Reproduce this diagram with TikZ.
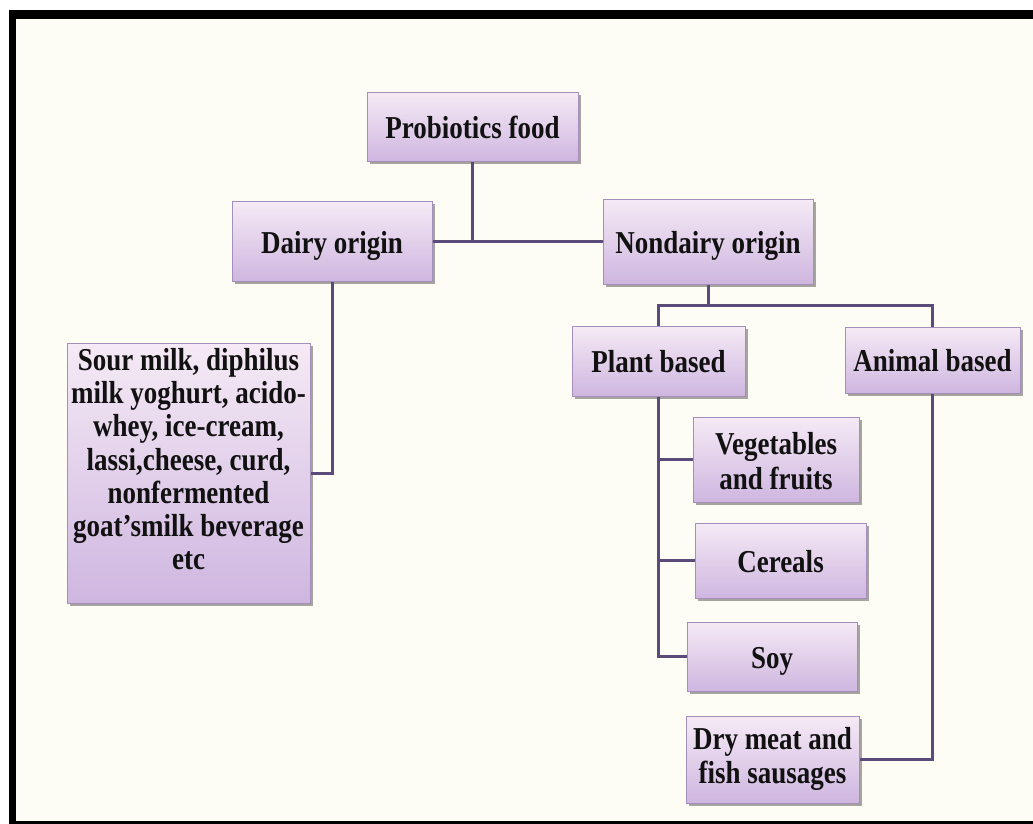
\documentclass[tikz,border=0pt]{standalone}
\usepackage{fontspec}
\setmainfont{Liberation Serif}
\usetikzlibrary{shadows}
\definecolor{bgcream}{HTML}{FEFDF5}
\definecolor{boxtop}{HTML}{F5EAF5}
\definecolor{boxbot}{HTML}{CFB6E0}
\definecolor{boxedge}{HTML}{A38FB9}
\definecolor{linkcol}{HTML}{5B4B7A}
\definecolor{inkcol}{HTML}{111111}
\tikzset{
  fbox/.style={draw=boxedge, line width=1pt, shading=axis, top color=boxtop, bottom color=boxbot,
    drop shadow={shadow xshift=2.5pt, shadow yshift=-2.5pt, fill=black, opacity=0.35},
    inner sep=0pt, align=center, text=inkcol, font=\fontsize{27}{29.5}\selectfont\bfseries},
  link/.style={draw=linkcol, line width=3pt},
}
\newcommand{\vs}[1]{\scalebox{1}[1.18]{\begin{tabular}{@{}c@{}}#1\end{tabular}}}
\newcommand{\dn}{\rule{0pt}{34pt}}
\begin{document}
\begin{tikzpicture}[x=1pt,y=-1pt]
\useasboundingbox (0,0) rectangle (1033,824);
\fill[white] (0,0) rectangle (1033,824);
\fill[bgcream] (9,10) rectangle (1033,824);
\fill[black] (9,10) rectangle (1033,19);
\fill[black] (9,10) rectangle (16,824);
\fill[black] (9,821) rectangle (1033,824);

\node[fbox, minimum width=211pt, minimum height=68pt] (prob) at (472.5,127) {\vs{Probiotics food}\dn};
\node[fbox, minimum width=200pt, minimum height=80pt] (dairy) at (332,241.5) {\vs{Dairy origin}\dn};
\node[fbox, minimum width=210pt, minimum height=85pt] (nond) at (708,241.5) {\vs{Nondairy origin}\dn};
\node[fbox, minimum width=173pt, minimum height=70pt] (plant) at (658.5,361) {\vs{Plant based}\dn};
\node[fbox, minimum width=175pt, minimum height=66pt] (animal) at (932.5,360) {\vs{Animal based}\dn};
\node[fbox, minimum width=166pt, minimum height=85pt] (veg) at (776,459.5) {\vs{Vegetables\\and fruits}\rule{0pt}{53pt}};
\node[fbox, minimum width=171pt, minimum height=75pt] (cer) at (780.5,560.5) {\vs{Cereals}\dn};
\node[fbox, minimum width=170pt, minimum height=69pt] (soy) at (772,656.5) {\vs{Soy}\dn};
\node[fbox, minimum width=173pt, minimum height=87pt] (dry) at (772.5,759.5) {\vs{Dry meat and\\fish sausages}};
\node[fbox, minimum width=243pt, minimum height=260pt, font=\fontsize{27}{28.2}\selectfont\bfseries] (sour) at (188.5,473) {\vs{Sour milk, diphilus\\milk yoghurt, acido-\\whey, ice-cream,\\lassi,cheese, curd,\\nonfermented\\goat’smilk beverage\\etc\\[-12pt] \mbox{}}};

\coordinate (hub) at (prob.south |- dairy.east);
\draw[link] (prob.south) -- (hub);
\draw[link] (dairy.east) -- (nond.west);
\coordinate (bus) at (708,305);
\draw[link] (nond.south) -- (bus);
\draw[link] (plant.north) -- (plant.north |- bus) -- (animal.north |- bus) -- (animal.north);
\draw[link] (plant.south) |- (soy.west);
\draw[link] (plant.south |- veg.west) -- (veg.west);
\draw[link] (plant.south |- cer.west) -- (cer.west);
\draw[link] (animal.south) |- (dry.east);
\draw[link] (dairy.south) |- (sour.east);
\end{tikzpicture}
\end{document}
